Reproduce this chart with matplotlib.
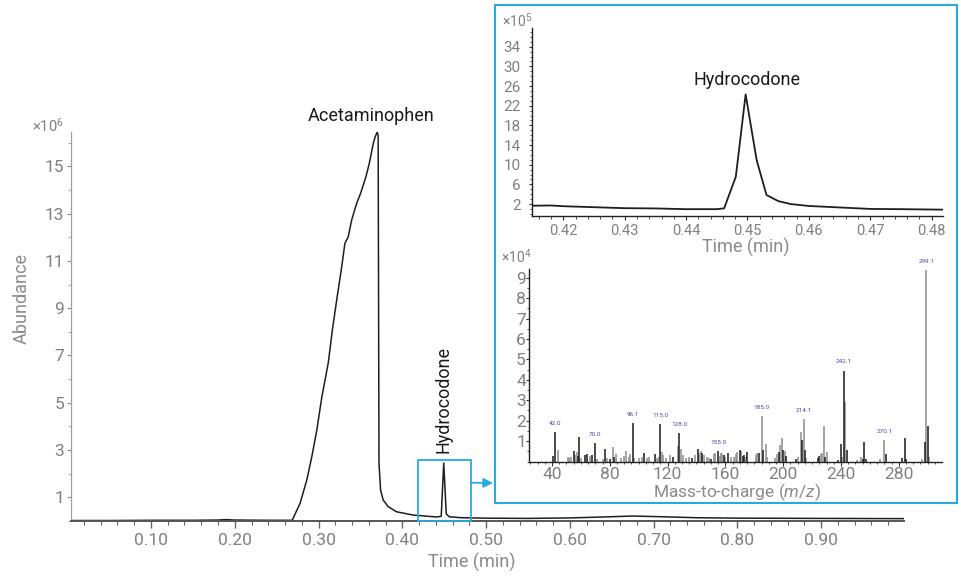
import matplotlib
matplotlib.use('Agg')
import matplotlib.pyplot as plt
from matplotlib.patches import Rectangle
from matplotlib.ticker import MultipleLocator, FixedLocator
import numpy as np

plt.rcParams['font.family'] = ['Roboto', 'DejaVu Sans']
plt.rcParams['mathtext.fontset'] = 'custom'
plt.rcParams['mathtext.rm'] = 'Roboto'
plt.rcParams['mathtext.it'] = 'Roboto:italic'

# ---------------- data ----------------
# total ion chromatogram (abundance x10^6)
tic_time = [0.0045, 0.05, 0.10, 0.15, 0.18, 0.19, 0.20, 0.24, 0.2686, 0.278, 0.286, 0.292,
            0.298, 0.304, 0.3117, 0.3165, 0.3217, 0.3277, 0.3315, 0.3355, 0.3396, 0.3455,
            0.3503, 0.3566, 0.3606, 0.3654, 0.3677, 0.3701, 0.3712, 0.3722, 0.3741, 0.3772,
            0.3831, 0.3931, 0.4132, 0.441, 0.4465, 0.4495, 0.4525, 0.456, 0.47, 0.50, 0.55,
            0.60, 0.64, 0.675, 0.71, 0.75, 0.80, 0.90, 0.999]
tic_abund = [0.02, 0.02, 0.03, 0.03, 0.04, 0.06, 0.04, 0.03, 0.03, 0.75, 1.73, 2.72,
             3.85, 5.25, 6.7, 8.07, 9.34, 10.75, 11.74, 12.02, 12.73, 13.43,
             13.86, 14.56, 15.12, 15.97, 16.25, 16.45, 16.3, 2.45, 1.31, 0.89,
             0.61, 0.39, 0.25, 0.17, 0.2, 2.45, 0.3, 0.18, 0.14, 0.12, 0.11,
             0.13, 0.17, 0.21, 0.18, 0.14, 0.12, 0.11, 0.10]

# extracted hydrocodone peak (abundance x10^5)
eic_time = [0.41485, 0.418, 0.42, 0.425, 0.43, 0.435, 0.44, 0.445, 0.4462, 0.4481, 0.4497,
            0.4515, 0.4531, 0.455, 0.457, 0.46, 0.465, 0.47, 0.475, 0.4819]
eic_abund = [1.65, 1.7, 1.55, 1.35, 1.15, 1.1, 0.95, 0.95, 1.12, 7.55, 24.3,
             10.9, 3.83, 2.6, 2.0, 1.6, 1.3, 1.0, 0.95, 0.85]

# mass spectrum (intensity x10^4); series 'k' = dark bars, 'g' = grey bars
ms_mz = [41, 42, 44, 51, 52, 53, 55, 56, 57, 58, 59, 60, 63, 64, 66, 68, 70, 71, 75, 77, 78,
         80, 82, 83, 84, 88, 90, 91, 93, 94, 96.1, 97, 100, 102, 104, 106, 107, 111, 113, 114,
         115, 116, 117, 119, 122, 124, 127, 128, 129, 131, 133, 135, 137, 139, 141, 142, 143,
         144, 145, 147, 149, 150, 152, 153, 155, 156, 157, 158, 159, 160, 162, 164, 166, 167,
         168, 170, 171, 172, 173, 174, 175, 181, 182, 183, 185, 186, 188, 189, 194, 196, 197,
         198, 199, 200, 201, 202, 209, 210, 212, 213, 214.1, 215, 216, 224, 225, 226, 227, 228,
         229, 230, 238, 240, 241, 242.1, 243, 244, 251, 254, 255, 256, 257, 267, 270.1, 271,
         282, 284, 285, 296, 298, 299.1, 300, 301]
ms_int = [0.27, 1.46, 0.56, 0.2, 0.15, 0.24, 0.5, 0.32, 0.46, 0.27, 1.18, 0.19, 0.32, 0.37,
          0.28, 0.32, 0.92, 0.1, 0.12, 0.61, 0.15, 0.12, 0.72, 0.24, 0.37, 0.15, 0.28, 0.53,
          0.24, 0.37, 1.9, 0.15, 0.15, 0.24, 0.43, 0.15, 0.2, 0.37, 0.15, 0.24, 1.85, 0.46,
          0.32, 0.15, 0.32, 0.2, 0.76, 1.38, 0.6, 0.32, 0.15, 0.24, 0.15, 0.32, 0.61, 0.4, 0.53,
          0.43, 0.32, 0.2, 0.15, 0.1, 0.35, 0.4, 0.51, 0.27, 0.4, 0.37, 0.32, 0.24, 0.4, 0.2,
          0.2, 0.37, 0.48, 0.56, 0.51, 0.27, 0.32, 0.2, 0.48, 0.32, 0.4, 0.43, 2.22, 0.56, 0.86,
          0.2, 0.15, 0.37, 0.48, 0.81, 1.13, 0.56, 0.51, 0.27, 0.1, 0.2, 1.46, 1.05, 2.06, 0.56,
          0.15, 0.19, 0.27, 0.37, 0.4, 1.73, 0.24, 0.45, 0.07, 0.85, 0.24, 4.46, 2.9, 0.56, 0.07,
          0.2, 0.12, 0.94, 0.1, 0.1, 1.03, 0.37, 0.15, 1.15, 0.1, 0.1, 0.94, 9.4, 1.72, 0.24]
ms_series = ['k', 'k', 'g', 'g', 'g', 'g', 'k', 'g', 'g', 'k', 'k', 'g', 'k', 'k', 'g', 'k',
             'k', 'g', 'g', 'k', 'g', 'k', 'g', 'k', 'g', 'g', 'g', 'g', 'g', 'g', 'k', 'g',
             'g', 'g', 'k', 'g', 'g', 'k', 'g', 'g', 'k', 'g', 'g', 'g', 'g', 'k', 'g', 'k',
             'g', 'g', 'g', 'g', 'k', 'g', 'k', 'g', 'g', 'k', 'g', 'g', 'g', 'k', 'g', 'g',
             'k', 'g', 'g', 'g', 'k', 'g', 'k', 'g', 'g', 'g', 'g', 'k', 'g', 'k', 'k', 'g',
             'k', 'g', 'g', 'k', 'g', 'k', 'g', 'g', 'g', 'g', 'k', 'g', 'g', 'k', 'g', 'k',
             'k', 'g', 'g', 'k', 'g', 'k', 'g', 'k', 'k', 'g', 'g', 'g', 'k', 'g', 'k', 'k',
             'g', 'k', 'g', 'k', 'g', 'g', 'k', 'k', 'k', 'g', 'g', 'k', 'k', 'k', 'k', 'g',
             'k', 'g', 'k', 'g']
ms_label_text = ['42.0', '70.0', '96.1', '115.0', '128.0', '155.0', '185.0', '214.1',
                 '242.1', '270.1', '299.1']
ms_label_mz = [42, 70, 96.1, 115, 128, 155, 185, 214.1, 242.1, 270.1, 299.1]

main_xticks = [0.10, 0.20, 0.30, 0.40, 0.50, 0.60, 0.70, 0.80, 0.90]
main_yticks = [1, 3, 5, 7, 9, 11, 13, 15]
eic_xticks = [0.42, 0.43, 0.44, 0.45, 0.46, 0.47, 0.48]
eic_yticks = [2, 6, 10, 14, 18, 22, 26, 30, 34]
ms_xticks = [40, 80, 120, 160, 200, 240, 280]
ms_yticks = [1, 2, 3, 4, 5, 6, 7, 8, 9]

# ---------------- layout ----------------
W, H = 961, 577
fig = plt.figure(figsize=(W / 100, H / 100), dpi=100)
BLUE = '#29a9e1'
GREY = '#8a8a8a'
DARK = '#1e1e1e'
LBLUE = '#4b4b9e'


def rect(l, t, r, b):
    return [l / W, 1 - b / H, (r - l) / W, (b - t) / H]


def ftext(x, y, s, **kw):
    kw.setdefault('ha', 'center')
    kw.setdefault('va', 'center')
    return fig.text(x / W, 1 - y / H, s, **kw)


# ---- main chromatogram ----
ax = fig.add_axes(rect(71, 132, 904, 521))
ax.plot(tic_time, tic_abund, color=DARK, lw=1.1)
ax.set_xlim(0.0045, 0.999)
ax.set_ylim(0, 16.45)
for s in ['top', 'right']:
    ax.spines[s].set_visible(False)
ax.spines['bottom'].set_color('#555555')
ax.spines['bottom'].set_linewidth(1.4)
ax.spines['left'].set_color('#9a9a9a')
ax.spines['left'].set_linewidth(0.9)
ax.spines['left'].set_linestyle((0, (2, 1.2)))
ax.xaxis.set_major_locator(FixedLocator(main_xticks))
ax.xaxis.set_minor_locator(MultipleLocator(0.02))
ax.yaxis.set_major_locator(FixedLocator(main_yticks))
ax.yaxis.set_minor_locator(MultipleLocator(1))
ax.set_xticklabels([f'{v:.2f}' for v in main_xticks])
ax.set_yticklabels([str(v) for v in main_yticks])
ax.tick_params(axis='x', which='major', length=5, width=1, color='#666666', pad=3.5,
               labelsize=12.5, labelcolor='#808080')
ax.tick_params(axis='x', which='minor', length=3, width=0.8, color='#666666')
ax.tick_params(axis='y', which='major', length=3, width=0.8, color='#888888', pad=2,
               labelsize=12.5, labelcolor='#808080')
ax.tick_params(axis='y', which='minor', length=2, width=0.6, color='#999999')

ax.add_patch(Rectangle((0.4188, 0), 0.482 - 0.4188, 2.58, fill=False, edgecolor=BLUE,
                       lw=1.3, clip_on=False, zorder=3))
ax.annotate('', xy=(493 / W, 1 - 483 / H), xycoords='figure fraction',
            xytext=(0.482, 1.62), textcoords='data',
            arrowprops=dict(arrowstyle='-|>', color=BLUE, lw=1.3, mutation_scale=14,
                            shrinkA=0, shrinkB=0))

ftext(48, 126, '×10$^{6}$', fontsize=10.5, color='#808080')
ftext(22, 299, 'Abundance', rotation=90, fontsize=13, color=GREY)
ftext(472, 562, 'Time (min)', fontsize=13, color=GREY)
ftext(371, 121, 'Acetaminophen', fontsize=13, color='#1a1a1a', va='baseline')
fig.text(448 / W, 1 - 453 / H, 'Hydrocodone', rotation=90, rotation_mode='anchor',
         ha='left', va='baseline', fontsize=13, color='#1a1a1a')

# ---- inset frame ----
fig.patches.append(Rectangle((495 / W, 1 - 503 / H), (957 - 495) / W, (503 - 5) / H,
                             transform=fig.transFigure, fill=False, edgecolor=BLUE,
                             lw=1.5, zorder=0))

# ---- inset chromatogram ----
ax2 = fig.add_axes(rect(531.7, 28, 943.3, 216))
ax2.plot(eic_time, eic_abund, color=DARK, lw=1.3)
ax2.set_xlim(0.41485, 0.4819)
ax2.set_ylim(-0.44, 37.8)
for s in ['top', 'right']:
    ax2.spines[s].set_visible(False)
for s in ['left', 'bottom']:
    ax2.spines[s].set_color('#222222')
    ax2.spines[s].set_linewidth(1.0)
ax2.xaxis.set_major_locator(FixedLocator(eic_xticks))
ax2.xaxis.set_minor_locator(MultipleLocator(0.002))
ax2.yaxis.set_major_locator(FixedLocator(eic_yticks))
ax2.yaxis.set_minor_locator(MultipleLocator(1))
ax2.set_xticklabels([f'{v:.2f}' for v in eic_xticks])
ax2.set_yticklabels([str(v) for v in eic_yticks])
ax2.tick_params(axis='x', which='major', length=3, width=0.8, color='#333333', pad=3,
                labelsize=10.5, labelcolor='#808080')
ax2.tick_params(axis='x', which='minor', length=2, width=0.6, color='#333333')
ax2.tick_params(axis='y', which='major', length=2.5, width=0.8, color='#333333', pad=5.5,
                labelsize=11, labelcolor='#808080')
ax2.tick_params(axis='y', which='minor', length=1.5, width=0.6, color='#333333')
ftext(517, 21, '×10$^{5}$', fontsize=10, color='#808080')
ftext(745.7, 247, 'Time (min)', fontsize=13, color=GREY)
ftext(747.3, 85, 'Hydrocodone', fontsize=13, color='#1a1a1a', va='baseline')

# ---- mass spectrum ----
ax3 = fig.add_axes(rect(529.3, 269.3, 941.7, 461.5))
mz = np.array(ms_mz, dtype=float)
it = np.array(ms_int, dtype=float)
ser = np.array(ms_series)
ax3.vlines(mz[ser == 'g'], 0, it[ser == 'g'], color='#8c8c8c', lw=1.1)
ax3.vlines(mz[ser == 'k'], 0, it[ser == 'k'], color='#1a1a1a', lw=1.1)
for txt, m in zip(ms_label_text, ms_label_mz):
    near = np.abs(mz - m) < 0.6
    top = it[near].max()
    ax3.text(m, top + 0.42, txt, ha='center', va='center', fontsize=4.6, color=LBLUE,
             clip_on=False)
ax3.set_xlim(24.3, 309.7)
ax3.set_ylim(0, 9.42)
for s in ['top', 'right']:
    ax3.spines[s].set_visible(False)
for s in ['left', 'bottom']:
    ax3.spines[s].set_color('#222222')
    ax3.spines[s].set_linewidth(1.0)
ax3.xaxis.set_major_locator(FixedLocator(ms_xticks))
ax3.xaxis.set_minor_locator(MultipleLocator(5))
ax3.yaxis.set_major_locator(FixedLocator(ms_yticks))
ax3.yaxis.set_minor_locator(MultipleLocator(0.5))
ax3.set_xticklabels([str(v) for v in ms_xticks])
ax3.set_yticklabels([str(v) for v in ms_yticks])
ax3.tick_params(axis='x', which='major', length=3, width=0.8, color='#333333', pad=1,
                labelsize=12.5, labelcolor='#808080')
ax3.tick_params(axis='x', which='minor', length=1.5, width=0.6, color='#333333')
ax3.tick_params(axis='y', which='major', length=2, width=0.8, color='#333333', pad=0.5,
                labelsize=12.5, labelcolor='#808080')
ax3.tick_params(axis='y', which='minor', length=1.2, width=0.6, color='#333333')
ftext(516, 257, '×10$^{4}$', fontsize=10, color='#808080')
ftext(736.7, 492, 'Mass-to-charge ($\\mathit{m/z}$)', fontsize=12.5, color=GREY)

fig.savefig('out.png', dpi=100)
